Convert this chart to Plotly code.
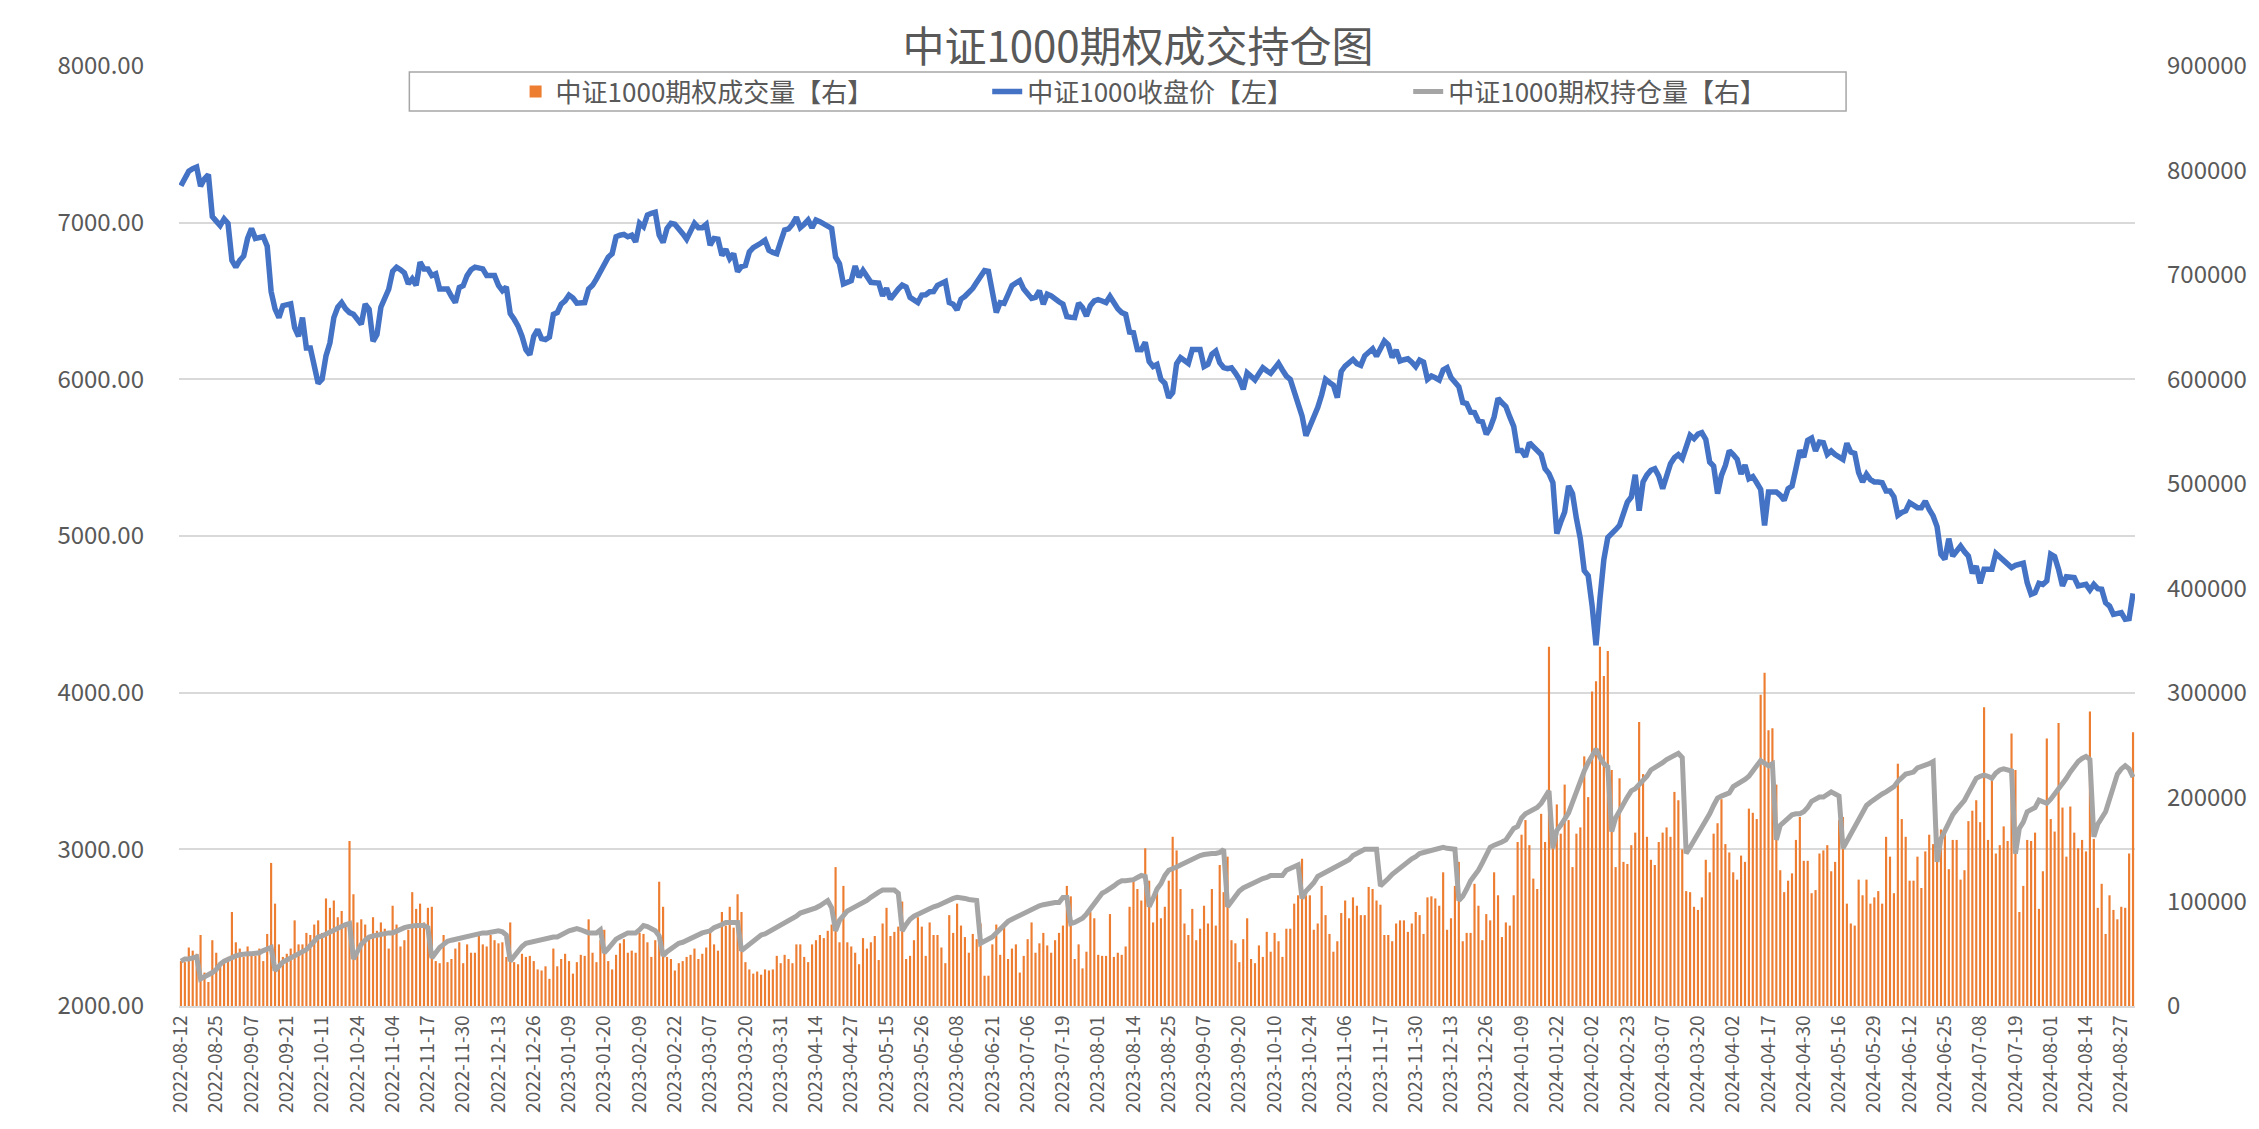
import plotly.graph_objects as go

# ---------------- data ----------------
tick_labels = [
    "2022-08-12", "2022-08-25", "2022-09-07", "2022-09-21", "2022-10-11", "2022-10-24",
    "2022-11-04", "2022-11-17", "2022-11-30", "2022-12-13", "2022-12-26", "2023-01-09",
    "2023-01-20", "2023-02-09", "2023-02-22", "2023-03-07", "2023-03-20", "2023-03-31",
    "2023-04-14", "2023-04-27", "2023-05-15", "2023-05-26", "2023-06-08", "2023-06-21",
    "2023-07-06", "2023-07-19", "2023-08-01", "2023-08-14", "2023-08-25", "2023-09-07",
    "2023-09-20", "2023-10-10", "2023-10-24", "2023-11-06", "2023-11-17", "2023-11-30",
    "2023-12-13", "2023-12-26", "2024-01-09", "2024-01-22", "2024-02-02", "2024-02-23",
    "2024-03-07", "2024-03-20", "2024-04-02", "2024-04-17", "2024-04-30", "2024-05-16",
    "2024-05-29", "2024-06-12", "2024-06-25", "2024-07-08", "2024-07-19", "2024-08-01",
    "2024-08-14", "2024-08-27",
]
label_step = 9  # one date label every 9 trading days

# CSI 1000 close (left axis), one value per trading day
close_price = [
    7236, 7290, 7329, 7345, 7355, 7232, 7280, 7307, 7039,
    7010, 6981, 7024, 6995, 6760, 6716, 6760, 6787, 6900,
    6963, 6899, 6905, 6910, 6850, 6560, 6450, 6394, 6470,
    6480, 6482, 6330, 6275, 6394, 6200, 6200, 6100, 5974,
    6000, 6150, 6232, 6394, 6460, 6490, 6450, 6426, 6415,
    6380, 6351, 6480, 6447, 6243, 6286, 6460, 6530, 6575,
    6690, 6716, 6700, 6680, 6609, 6641, 6600, 6748, 6705,
    6705, 6662, 6673, 6576, 6580, 6576, 6530, 6490, 6587,
    6598, 6662, 6700, 6716, 6710, 6705, 6662, 6665, 6662,
    6600, 6566, 6590, 6420, 6383, 6340, 6275, 6189, 6157,
    6275, 6318, 6260, 6254, 6270, 6415, 6426, 6480, 6501,
    6538, 6520, 6486, 6488, 6490, 6576, 6600, 6641, 6690,
    6738, 6780, 6802, 6910, 6920, 6925, 6910, 6920, 6877,
    6996, 6974, 7049, 7060, 7067, 6920, 6873, 6963, 6996,
    6990, 6963, 6930, 6895, 6950, 6996, 6968, 6968, 6989,
    6856, 6899, 6895, 6791, 6830, 6770, 6802, 6688, 6720,
    6727, 6813, 6840, 6860, 6870, 6888, 6824, 6810, 6802,
    6880, 6953, 6960, 6990, 7034, 6968, 6990, 7017, 6968,
    7017, 7006, 6990, 6974, 6963, 6781, 6738, 6609, 6620,
    6630, 6723, 6652, 6695, 6660, 6619, 6617, 6615, 6533,
    6581, 6512, 6550, 6576, 6602, 6590, 6523, 6505, 6490,
    6538, 6540, 6559, 6560, 6600, 6615, 6624, 6490, 6480,
    6443, 6512, 6530, 6551, 6581, 6620, 6662, 6695, 6690,
    6555, 6426, 6490, 6485, 6540, 6598, 6615, 6630, 6576,
    6550, 6516, 6523, 6566, 6480, 6544, 6533, 6510, 6495,
    6480, 6400, 6396, 6394, 6486, 6458, 6404, 6470, 6500,
    6508, 6500, 6490, 6529, 6480, 6450, 6426, 6415, 6301,
    6297, 6190, 6189, 6237, 6114, 6082, 6095, 6000, 5975,
    5883, 5915, 6100, 6138, 6120, 6102, 6191, 6191, 6191,
    6081, 6095, 6160, 6180, 6106, 6075, 6068, 6074, 6040,
    6000, 5936, 6042, 6020, 5996, 6035, 6074, 6055, 6038,
    6070, 6102, 6060, 6021, 6000, 5920, 5850, 5767, 5640,
    5700, 5756, 5820, 5900, 6000, 5980, 5962, 5883, 6050,
    6085, 6110, 6127, 6100, 6089, 6150, 6170, 6195, 6148,
    6200, 6244, 6220, 6140, 6187, 6117, 6125, 6131, 6110,
    6081, 6123, 6110, 6000, 6021, 6010, 5996, 6060, 6074,
    6011, 5980, 5953, 5852, 5845, 5790, 5788, 5735, 5729,
    5650, 5690, 5760, 5879, 5850, 5826, 5760, 5700, 5545,
    5545, 5506, 5596, 5570, 5549, 5520, 5430, 5398, 5340,
    5015, 5089, 5153, 5319, 5270, 5111, 4983, 4779, 4747,
    4556, 4302, 4600, 4850, 4990, 5021, 5040, 5068, 5150,
    5217, 5249, 5391, 5162, 5345, 5390, 5420, 5430, 5383,
    5302, 5390, 5462, 5500, 5519, 5494, 5557, 5643, 5621,
    5650, 5660, 5617, 5472, 5447, 5270, 5387, 5450, 5545,
    5520, 5489, 5396, 5453, 5366, 5379, 5340, 5298, 5068,
    5281, 5281, 5281, 5260, 5228, 5302, 5319, 5430, 5547,
    5504, 5611, 5625, 5543, 5600, 5596, 5521, 5543, 5520,
    5500, 5489, 5592, 5536, 5528, 5404, 5345, 5394, 5360,
    5345, 5345, 5340, 5287, 5287, 5250, 5132, 5150, 5160,
    5213, 5195, 5181, 5181, 5223, 5170, 5128, 5060, 4883,
    4851, 4983, 4872, 4900, 4936, 4900, 4872, 4762, 4808,
    4698, 4787, 4787, 4787, 4889, 4868, 4840, 4820, 4798,
    4813, 4820, 4826, 4702, 4628, 4638, 4698, 4691, 4713,
    4883, 4868, 4787, 4681, 4740, 4735, 4734, 4681, 4690,
    4691, 4655, 4691, 4664, 4660, 4574, 4553, 4500, 4505,
    4511, 4468, 4472, 4634,
]

# option volume, thousand contracts (right axis)
volume_k = [
    43, 42, 56, 53, 50, 68, 32, 23, 63,
    51, 42, 43, 47, 90, 61, 55, 47, 57,
    51, 48, 55, 43, 69, 137, 98, 59, 47,
    50, 55, 82, 59, 59, 70, 68, 78, 82,
    70, 103, 94, 101, 85, 91, 78, 158, 107,
    80, 83, 78, 66, 85, 72, 80, 74, 55,
    96, 78, 57, 63, 73, 109, 93, 98, 80,
    94, 95, 43, 41, 68, 42, 45, 55, 61,
    41, 59, 51, 51, 67, 59, 57, 68, 63,
    60, 61, 47, 80, 42, 40, 50, 47, 48,
    43, 35, 34, 38, 26, 55, 38, 45, 50,
    43, 31, 42, 49, 48, 83, 51, 42, 63,
    73, 43, 35, 49, 60, 64, 51, 53, 51,
    70, 69, 61, 47, 63, 119, 95, 47, 45,
    34, 41, 43, 47, 49, 55, 45, 50, 56,
    72, 59, 53, 90, 77, 95, 75, 107, 90,
    42, 35, 31, 33, 30, 35, 34, 35, 48,
    41, 49, 45, 41, 59, 59, 47, 42, 59,
    63, 68, 65, 72, 78, 133, 61, 115, 61,
    57, 51, 40, 65, 55, 61, 67, 44, 79,
    94, 67, 71, 76, 100, 45, 48, 63, 85,
    76, 48, 80, 68, 68, 56, 41, 87, 70,
    98, 77, 66, 51, 69, 64, 79, 29, 29,
    59, 78, 49, 76, 45, 55, 59, 32, 48,
    64, 80, 51, 60, 70, 58, 51, 63, 70,
    77, 115, 105, 45, 59, 36, 52, 90, 84,
    49, 48, 48, 88, 47, 51, 49, 57, 95,
    120, 112, 101, 151, 120, 80, 110, 84, 95,
    120, 162, 149, 112, 79, 68, 93, 63, 74,
    96, 79, 112, 77, 135, 109, 143, 63, 60,
    42, 64, 84, 45, 41, 58, 47, 71, 52,
    70, 62, 47, 74, 74, 98, 106, 141, 106,
    106, 73, 79, 115, 87, 69, 52, 62, 89,
    101, 84, 104, 96, 87, 87, 114, 112, 101,
    97, 68, 68, 62, 79, 82, 82, 71, 79,
    90, 87, 69, 104, 105, 103, 96, 128, 73,
    84, 115, 138, 62, 70, 70, 117, 96, 63,
    88, 82, 128, 106, 66, 80, 77, 106, 157,
    164, 178, 154, 122, 112, 184, 157, 344, 152,
    193, 165, 212, 178, 133, 165, 171, 239, 200,
    301, 311, 344, 316, 340, 226, 133, 218, 138,
    136, 154, 166, 272, 222, 162, 140, 135, 157,
    166, 171, 162, 205, 197, 150, 110, 109, 95,
    92, 104, 140, 128, 165, 175, 198, 155, 147,
    128, 121, 144, 138, 189, 185, 179, 298, 319,
    264, 266, 212, 130, 109, 120, 127, 159, 181,
    139, 139, 108, 111, 146, 149, 154, 129, 138,
    178, 181, 98, 79, 77, 121, 106, 121, 98,
    104, 110, 98, 162, 143, 108, 232, 179, 162,
    120, 120, 143, 113, 148, 164, 155, 170, 169,
    165, 131, 159, 159, 121, 130, 177, 187, 197,
    176, 286, 159, 217, 146, 154, 172, 158, 261,
    226, 90, 115, 159, 158, 166, 93, 129, 256,
    179, 167, 271, 190, 143, 191, 166, 151, 159,
    148, 282, 160, 94, 117, 69, 106, 92, 83,
    95, 94, 146, 262,
]

# option open interest, thousand contracts (right axis)
open_interest_k = [
    43, 45, 45, 46, 47, 26, 28, 29, 32,
    35, 40, 43, 45, 47, 48, 49, 50, 50,
    50, 50, 51, 53, 55, 56, 34, 38, 42,
    44, 46, 48, 50, 51, 54, 58, 62, 66,
    67, 69, 70, 72, 74, 76, 78, 79, 45,
    52, 59, 63, 66, 67, 68, 69, 70, 70,
    70, 72, 73, 75, 76, 77, 77, 77, 77,
    75, 46, 51, 56, 59, 62, 63, 64, 65,
    65, 66, 68, 69, 69, 70, 70, 71, 72,
    72, 71, 68, 43, 48, 53, 57, 60, 61,
    62, 62, 63, 65, 66, 66, 66, 68, 71,
    72, 73, 74, 73, 71, 70, 70, 70, 73,
    51, 55, 60, 64, 66, 68, 70, 70, 70,
    73, 77, 76, 74, 72, 67, 48, 52, 55,
    58, 60, 61, 63, 64, 66, 68, 70, 71,
    72, 75, 76, 78, 80, 80, 80, 80, 53,
    56, 59, 63, 66, 68, 69, 71, 74, 76,
    78, 80, 82, 84, 86, 89, 90, 91, 92,
    94, 96, 98, 101, 94, 72, 82, 86, 91,
    93, 95, 96, 98, 101, 104, 107, 109, 111,
    111, 111, 111, 108, 72, 78, 83, 86, 88,
    90, 92, 93, 95, 96, 98, 99, 101, 103,
    104, 104, 103, 102, 102, 101, 60, 62, 65,
    66, 70, 74, 78, 81, 83, 85, 87, 89,
    91, 93, 95, 96, 97, 98, 98, 99, 99,
    104, 104, 79, 80, 82, 84, 88, 93, 98,
    104, 108, 110, 112, 115, 118, 120, 120, 120,
    121, 123, 125, 124, 95, 103, 112, 117, 125,
    130, 131, 133, 135, 137, 139, 140, 142, 144,
    145, 146, 146, 146, 147, 150, 95, 100, 106,
    110, 113, 115, 117, 118, 120, 122, 123, 125,
    125, 125, 125, 130, 132, 134, 135, 103, 110,
    114, 118, 124, 126, 128, 130, 132, 134, 136,
    138, 140, 144, 146, 148, 150, 150, 150, 150,
    115, 118, 122, 126, 129, 132, 136, 139, 141,
    143, 146, 147, 148, 149, 150, 151, 152, 151,
    150, 150, 101, 105, 112, 120, 125, 130, 137,
    146, 152, 154, 155, 157, 159, 165, 170, 172,
    180, 184, 186, 187, 190, 194, 200, 206, 151,
    168, 173, 180, 185, 195, 206, 215, 225, 233,
    240, 246, 238, 232, 229, 167, 180, 187, 195,
    200, 206, 208, 212, 216, 220, 226, 228, 230,
    233, 236, 238, 240, 242, 238, 146, 152, 158,
    164, 170, 176, 184, 192, 199, 201, 202, 204,
    210, 212, 214, 217, 220, 226, 230, 235, 233,
    230, 232, 159, 173, 176, 180, 183, 184, 184,
    186, 190, 196, 198, 200, 200, 202, 205, 203,
    201, 151, 158, 165, 172, 178, 185, 192, 195,
    198, 200, 203, 205, 207, 210, 215, 219, 222,
    223, 224, 228, 229, 230, 232, 234, 138, 160,
    168, 177, 183, 188, 192, 197, 204, 210, 218,
    220, 221, 220, 218, 223, 226, 227, 226, 225,
    146, 170, 176, 186, 188, 190, 197, 195, 194,
    198, 203, 207, 212, 218, 224, 230, 234, 237,
    239, 236, 162, 174, 180, 186, 198, 210, 222,
    227, 230, 227, 219,
]

n_days = len(close_price)
assert len(volume_k) == n_days and len(open_interest_k) == n_days, (len(close_price), len(volume_k), len(open_interest_k))

day_index = list(range(n_days))
volume = [v * 1000 for v in volume_k]
open_interest = [v * 1000 for v in open_interest_k]
tick_positions = [k * label_step for k in range(len(tick_labels))]

# ---------------- layout geometry (page pixels) ----------------
PAGE_W, PAGE_H = 2259, 1129
BODY = 8                          # default html body margin
PLOT_L, PLOT_R, PLOT_T, PLOT_B = 179, 2149, 66, 1006   # plot area in page pixels
FIG_W, FIG_H = PAGE_W - BODY, PAGE_H - BODY
ML = PLOT_L - BODY
MT = PLOT_T - BODY
MR = FIG_W - (PLOT_R - BODY)
MB = FIG_H - (PLOT_B - BODY)
plot_w = PLOT_R - PLOT_L
plot_h = PLOT_B - PLOT_T

ORANGE = "#ED7D31"
BLUE = "#4472C4"
GRAY = "#A5A5A5"
TXT = "#595959"
GRID = "#D9D9D9"
FONT = "Noto Sans CJK SC, Noto Sans, sans-serif"


def px_x(p):
    return (p - PLOT_L) / plot_w


def px_y(p):
    return 1 - (p - PLOT_T) / plot_h


fig = go.Figure()

fig.add_trace(go.Bar(
    x=day_index, y=volume, name="中证1000期权成交量【右】",
    marker=dict(color=ORANGE, line=dict(width=0)),
    yaxis="y", legend="legend", hoverinfo="skip",
))
fig.add_trace(go.Scatter(
    x=day_index, y=open_interest, name="中证1000期权持仓量【右】",
    mode="lines", line=dict(color=GRAY, width=5),
    yaxis="y", legend="legend3", hoverinfo="skip",
))
fig.add_trace(go.Scatter(
    x=day_index, y=close_price, name="中证1000收盘价【左】",
    mode="lines", line=dict(color=BLUE, width=5.5),
    yaxis="y2", legend="legend2", hoverinfo="skip",
))

legend_common = dict(
    orientation="h", xanchor="left", y=px_y(91.5), yanchor="middle",
    bgcolor="rgba(0,0,0,0)", borderwidth=0,
    font=dict(size=26, color=TXT, family=FONT),
)

fig.update_layout(
    width=FIG_W, height=FIG_H,
    margin=dict(l=ML, r=MR, t=MT, b=MB, pad=0),
    paper_bgcolor="white", plot_bgcolor="white",
    font=dict(family=FONT, color=TXT),
    bargap=0.45,
    title=dict(
        text="中证1000期权成交持仓图",
        x=(1138 - BODY) / FIG_W, xref="container", xanchor="center",
        y=1 - (47 - BODY) / FIG_H, yref="container", yanchor="middle",
        font=dict(size=42, color=TXT, family=FONT),
    ),
    xaxis=dict(
        range=[-0.5, n_days - 0.5],
        tickmode="array", tickvals=tick_positions, ticktext=tick_labels,
        tickangle=-90, tickfont=dict(size=19, color=TXT),
        showgrid=False, zeroline=False,
        showline=True, linecolor=GRID, linewidth=1.5, ticks="",
    ),
    yaxis=dict(
        side="right", range=[0, 900000], dtick=100000, tickformat="d",
        showgrid=False, zeroline=False, showline=False, ticks="",
        tickfont=dict(size=24, color=TXT), ticklabelstandoff=31,
    ),
    yaxis2=dict(
        overlaying="y", side="left", range=[2000, 8000], dtick=1000, tickformat=".2f",
        showgrid=True, gridcolor=GRID, gridwidth=1.5, zeroline=False, showline=False,
        ticks="", tickfont=dict(size=24, color=TXT), ticklabelstandoff=34,
    ),
    legend=dict(legend_common, x=px_x(518)),
    legend2=dict(legend_common, x=px_x(993)),
    legend3=dict(legend_common, x=px_x(1417)),
    shapes=[dict(
        type="rect", xref="paper", yref="paper",
        x0=px_x(411), x1=px_x(1858), y0=px_y(111), y1=px_y(72),
        line=dict(color="#A6A6A6", width=1.5), fillcolor="white", layer="below",
    )],
    showlegend=True,
)

fig.write_html("out.html")
